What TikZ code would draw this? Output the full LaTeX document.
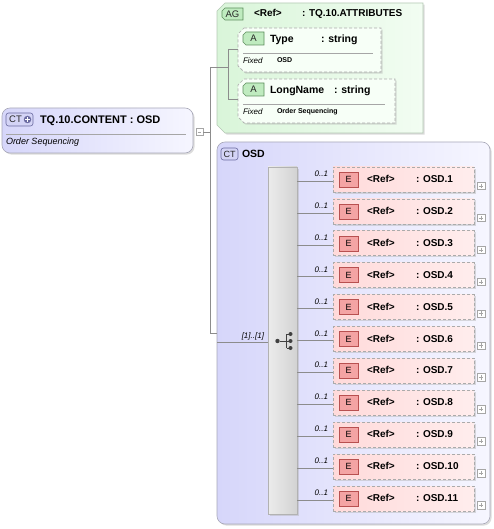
\documentclass[tikz,border=0pt]{standalone}
\usepackage{fontspec}
\setmainfont{Liberation Sans}
\usetikzlibrary{shadows}
\definecolor{conncol}{HTML}{8C8C8C}
\definecolor{ctfillL}{HTML}{D6D6FA}
\definecolor{ctfillR}{HTML}{F6F6FF}
\definecolor{ctborder}{HTML}{A8A8B8}
\definecolor{badgeblue}{HTML}{D4D4F6}
\definecolor{badgeblueB}{HTML}{6A6AA0}
\definecolor{agL}{HTML}{D9F5D9}
\definecolor{agR}{HTML}{F2FDF2}
\definecolor{agB}{HTML}{B4C8B4}
\definecolor{attrfill}{HTML}{F7FFF7}
\definecolor{greenbadge}{HTML}{BFEBBF}
\definecolor{greenbadgeB}{HTML}{5E8E5E}
\definecolor{elfillL}{HTML}{FFDADA}
\definecolor{elfillR}{HTML}{FFEDED}
\definecolor{ebadgecol}{HTML}{F4A4A4}
\definecolor{ebadgeB}{HTML}{B85050}
\definecolor{dashcol}{HTML}{ABABAB}
\newcommand{\chbox}[3]{\path[#3] ([xshift=#2]#1.north west) -- (#1.north east) -- (#1.south east) -- ([xshift=#2]#1.south west) -- ([yshift=#2]#1.south west) -- ([yshift=-#2]#1.north west) -- cycle;}
\begin{document}
\begin{tikzpicture}[x=1pt,y=-1pt,
  every node/.style={inner sep=0pt,outer sep=0pt},
  conn/.style={draw=conncol,line width=0.6pt},
  shadowed/.style={drop shadow={shadow xshift=1.6pt,shadow yshift=-1.6pt,fill=black!30,opacity=0.45}},
  ctbox/.style={draw=ctborder,line width=0.6pt,rounded corners=8pt,left color=ctfillL,right color=ctfillR,shadowed},
  blueBadge/.style={draw=badgeblueB,line width=0.6pt,fill=badgeblue,rounded corners=2.5pt},
  greenBadge/.style={draw=greenbadgeB,fill=greenbadge,line width=0.6pt},
  attrbox/.style={draw=dashcol,dash pattern=on 3pt off 2pt,line width=0.7pt,fill=attrfill,shadowed},
  elbox/.style={draw=dashcol,dash pattern=on 3pt off 2pt,line width=0.7pt,left color=elfillL,right color=elfillR,shadowed},
  ebadge/.style={draw=ebadgeB,fill=ebadgecol,line width=0.6pt,font=\fontsize{9}{10}\selectfont},
  expbox/.style={draw=gray!70,fill=white,minimum size=7.5pt,line width=0.5pt},
  hdr/.style={font=\bfseries\fontsize{10.5}{12}\selectfont,anchor=base west},
  etext/.style={font=\bfseries\fontsize{10}{12}\selectfont,anchor=base west},
  mult/.style={font=\itshape\fontsize{8}{9}\selectfont,anchor=base east},
  fixedlbl/.style={font=\itshape\fontsize{8}{9}\selectfont,anchor=base west},
  fixedval/.style={font=\bfseries\fontsize{7}{8}\selectfont,anchor=base west},
  sepline/.style={draw=gray!70,line width=0.6pt},
  badgetext/.style={font=\fontsize{9.5}{10}\selectfont,text=black!85},
  icon/.style={black!75,line width=0.9pt}
]
\useasboundingbox (0,0) rectangle (494,529);

% ---- left complex type
\node[ctbox,minimum width=191pt,minimum height=45pt,anchor=north west] (content) at (2,108) {};
\node[blueBadge,minimum width=27pt,minimum height=13pt,anchor=north west] (ctplus) at (6,113) {};
\node[badgetext] (ctplusT) at (15.5,119.5) {CT};
\node[circle,fill=badgeblueB,minimum size=7.5pt] (ctplusC) at (27.5,119.5) {};
\draw[white,line width=1.1pt] ([xshift=-2.3pt]ctplusC.center) -- ([xshift=2.3pt]ctplusC.center) ([yshift=-2.3pt]ctplusC.center) -- ([yshift=2.3pt]ctplusC.center);
\node[hdr,font=\bfseries\fontsize{11}{12}\selectfont] (contentT) at (40,124) {TQ.10.CONTENT : OSD};
\draw[sepline] (6,134) -- (186,134);
\node[font=\itshape\fontsize{9}{10}\selectfont,anchor=base west] (contentD) at (6,145) {Order Sequencing};
\node[expbox] (cexp) at (199.5,132) {};
\draw[gray!70] ([xshift=1.8pt]cexp.west) -- ([xshift=-1.8pt]cexp.east);

% ---- attribute group
\node[minimum width=206pt,minimum height=130pt,anchor=north west] (ag) at (217,3) {};
\chbox{ag}{8pt}{draw=agB,line width=0.6pt,left color=agL,right color=agR,shadowed}
\node[minimum width=21pt,minimum height=12pt,anchor=north west] (agbadge) at (222,8) {};
\chbox{agbadge}{3pt}{greenBadge}
\node[badgetext] (agbadgeT) at (agbadge.center) {AG};
\node[etext] (agRef) at (254,17) {<Ref>};
\node[etext] (agName) at (302,17) {: TQ.10.ATTRIBUTES};

% Type attribute
\node[minimum width=143pt,minimum height=44pt,anchor=north west] (type) at (238,28) {};
\chbox{type}{6pt}{attrbox}
\node[minimum width=21pt,minimum height=13pt,anchor=north west] (typeA) at (243,32) {};
\chbox{typeA}{3pt}{greenBadge}
\node[badgetext] (typeAT) at (typeA.center) {A};
\node[hdr] (typeN) at (270,43) {Type};
\node[hdr] (typeS) at (321,43) {: string};
\draw[sepline] (243,53) -- (373,53);
\node[fixedlbl] (typeF) at (243,63.5) {Fixed};
\node[fixedval] (typeV) at (277,62.5) {OSD};

% LongName attribute
\node[minimum width=157pt,minimum height=44pt,anchor=north west] (long) at (238,79) {};
\chbox{long}{6pt}{attrbox}
\node[minimum width=21pt,minimum height=13pt,anchor=north west] (longA) at (243,83) {};
\chbox{longA}{3pt}{greenBadge}
\node[badgetext] (longAT) at (longA.center) {A};
\node[hdr] (longN) at (270,94) {LongName};
\node[hdr] (longS) at (334,94) {: string};
\draw[sepline] (243,104) -- (385,104);
\node[fixedlbl] (longF) at (243,114.5) {Fixed};
\node[fixedval] (longV) at (277,113.5) {Order Sequencing};

% ---- complex type OSD
\node[ctbox,minimum width=273pt,minimum height=382pt,anchor=north west] (osd) at (217,142) {};
\node[blueBadge,minimum width=17pt,minimum height=12pt,anchor=north west] (ctb) at (221,148) {};
\node[badgetext,font=\fontsize{9}{10}\selectfont] (ctbT) at (ctb.center) {CT};
\node[hdr] (osdT) at (242,157.5) {OSD};

% sequence bar
\node[draw=gray!60,line width=0.6pt,left color=gray!15,middle color=white,right color=gray!35,minimum width=29pt,minimum height=347pt,anchor=north west,shadowed] (bar) at (268,167) {};
\node[circle,fill=black!75,minimum size=4.4pt] (sqdot) at (277.5,341) {};
\coordinate (sqv) at (286.5,341);
\draw[icon] (sqdot) -- (sqv);
\draw[icon] (286.5,334) -- (286.5,348);
\foreach \k in {334,341,348}{
  \draw[icon] (286.5,\k) -- (289,\k);
  \fill[black!75] (290.5,\k) circle (2pt);
}

% connectors
\coordinate (jtop) at (210,67);
\coordinate (jmid) at (210,132);
\coordinate (jbot) at (210,333);
\coordinate (agj) at (228,67);
\coordinate (agt) at (228,49);
\coordinate (agb) at (228,99);
\draw[conn] (cexp.east) -- (jmid);
\draw[conn] (jtop) -- (jbot);
\draw[conn] (jtop) -- (agj);
\draw[conn] (agt) -- (agb);
\draw[conn] (agt) -- (agt -| type.west);
\draw[conn] (agb) -- (agb -| long.west);
\draw[conn] (jbot) -- (jbot -| osd.west);
\coordinate (sqin) at (217,342);
\draw[conn] (sqin) -- (sqin -| bar.west);
\node[mult] (seqm) at (264,338) {[1]..[1]};

% elements
\foreach \i in {1,...,11}{
  \pgfmathsetmacro{\yy}{181+31.9*(\i-1)}
  \node[elbox,minimum width=141pt,minimum height=25pt,anchor=north west] (el\i) at (333,\yy-14) {};
  \coordinate (c\i) at (297,\yy);
  \draw[conn] (c\i) -- (c\i -| el\i.west);
  \node[mult] (m\i) at (328,\yy-4.5) {0..1};
  \node[ebadge,minimum width=19pt,minimum height=15pt,anchor=north west] (eb\i) at (339,\yy-9) {E};
  \node[etext] (er\i) at (367,\yy+1.5) {<Ref>};
  \node[etext] (en\i) at (416,\yy+1.5) {: OSD.\i};
  \node[expbox] (ex\i) at (481,\yy+5) {};
  \draw[gray!70] ([xshift=1.6pt]ex\i.west) -- ([xshift=-1.6pt]ex\i.east) ([yshift=-1.6pt]ex\i.north) -- ([yshift=1.6pt]ex\i.south);
}
\end{tikzpicture}
\end{document}
